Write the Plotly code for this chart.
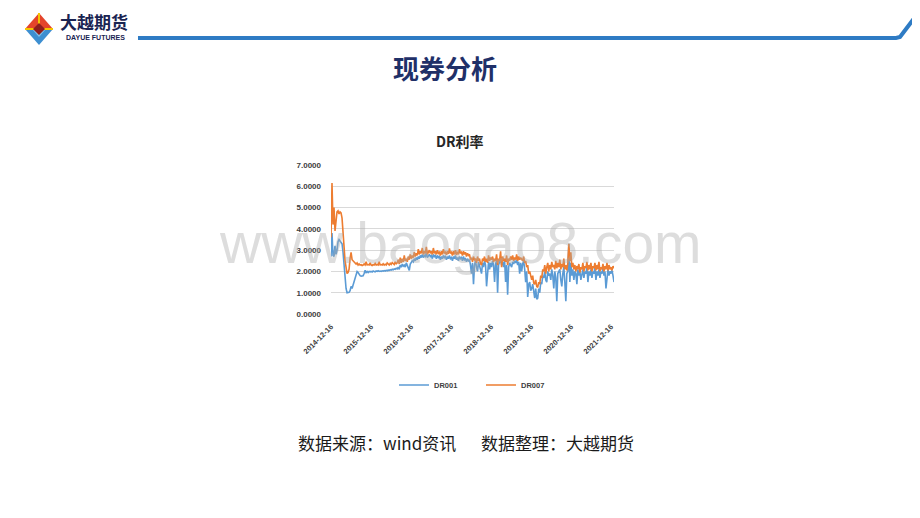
import plotly.graph_objects as go
import pandas as pd

W, H = 920, 518
OFF = 8  # page body margin

start_date = "2014-12-16"
end_date = "2022-01-12"

tick_dates = ["2014-12-16", "2015-12-16", "2016-12-16", "2017-12-16",
              "2018-12-16", "2019-12-16", "2020-12-16", "2021-12-16"]
y_ticks = [0, 1, 2, 3, 4, 5, 6, 7]

dr007 = [
    3.6, 6.15, 4.2, 5.0, 3.9, 4.3, 4.8, 4.85, 4.7, 4.8,
    4.75, 4.5, 3.8, 3.0, 2.5, 2.2, 1.9, 1.95, 2.1, 2.6,
    2.9, 2.55, 2.5, 2.45, 2.4, 2.35, 2.4, 2.3, 2.35, 2.3,
    2.32, 2.28, 2.3, 2.35, 2.3, 2.45, 2.3, 2.32, 2.3, 2.4,
    2.3, 2.28, 2.32, 2.3, 2.38, 2.3, 2.33, 2.3, 2.45, 2.3,
    2.32, 2.3, 2.36, 2.3, 2.34, 2.3, 2.4, 2.32, 2.3, 2.38,
    2.33, 2.42, 2.35, 2.32, 2.45, 2.36, 2.4, 2.55, 2.35, 2.65,
    2.4, 2.6, 2.45, 2.75, 2.5, 2.6, 2.45, 2.7, 2.55, 2.8,
    2.6, 2.75, 2.65, 2.9, 2.7, 2.85, 2.75, 3.05, 2.8, 2.95,
    2.85, 3.1, 2.8, 2.95, 2.85, 3.15, 2.8, 2.9, 3.0, 2.85,
    2.95, 2.8, 3.1, 2.85, 2.95, 2.8, 3.0, 2.85, 2.9, 2.75,
    2.95, 2.8, 3.05, 2.85, 2.9, 2.78, 2.95, 2.82, 3.08, 2.85,
    2.9, 2.75, 2.95, 2.8, 3.0, 2.78, 2.92, 2.8, 3.05, 2.85,
    2.9, 2.75, 2.95, 2.8, 2.9, 2.7, 2.85, 2.75, 2.8, 2.55,
    2.65, 2.45, 2.7, 2.55, 2.6, 2.4, 2.7, 2.5, 2.6, 2.35,
    2.3, 2.6, 2.5, 2.7, 2.45, 2.6, 2.4, 2.75, 2.5, 2.65,
    2.55, 2.7, 2.45, 2.6, 2.5, 2.8, 2.3, 2.6, 2.5, 2.95,
    2.2, 2.7, 2.5, 2.6, 2.45, 2.75, 2.3, 2.6, 2.5, 2.7,
    2.55, 2.75, 2.5, 2.65, 2.55, 2.8, 2.5, 2.7, 2.55, 2.65,
    2.6, 2.5, 2.7, 2.4, 2.5, 2.2, 2.3, 1.9, 2.0, 1.7,
    1.6, 1.8, 1.45, 1.4, 1.6, 1.3, 1.25, 1.5, 1.4, 1.8,
    1.7, 2.1, 2.0, 2.3, 1.9, 2.2, 2.4, 2.0, 2.3, 2.1,
    2.45, 2.2, 2.3, 2.1, 2.5, 2.15, 2.4, 2.2, 2.55, 2.1,
    2.35, 2.2, 2.6, 2.1, 2.3, 2.05, 2.4, 3.3, 2.5, 2.9,
    2.2, 2.4, 2.1, 2.3, 2.0, 2.25, 2.1, 2.35, 1.95, 2.2,
    2.1, 2.4, 2.0, 2.25, 2.15, 2.45, 2.05, 2.3, 2.1, 2.4,
    2.0, 2.25, 2.15, 2.4, 2.05, 2.3, 2.1, 2.45, 2.0, 2.2,
    2.1, 2.35, 2.0, 2.25, 2.1, 2.4, 2.05, 2.3, 2.1, 2.2,
    2.05, 2.25, 2.15,
]

dr001 = [
    2.7, 3.8, 2.75, 2.7, 3.2, 2.8, 3.0, 3.4, 3.5, 3.45,
    3.35, 3.3, 2.9, 2.2, 1.6, 1.2, 1.0, 1.0, 1.02, 1.1,
    1.3, 1.2, 1.35, 1.5, 1.7, 1.9, 2.0, 1.95, 1.85, 1.8,
    1.78, 1.78, 1.8, 1.9, 2.05, 1.95, 2.0, 1.95, 2.0, 1.98,
    2.0, 1.97, 2.02, 2.0, 1.98, 2.02, 2.0, 2.03, 2.0, 2.02,
    2.0, 2.03, 2.01, 2.04, 2.02, 2.05, 2.03, 2.06, 2.05, 2.08,
    2.06, 2.1, 2.08, 2.12, 2.1, 2.15, 2.12, 2.2, 2.1, 2.3,
    2.2, 2.35, 2.25, 2.3, 2.2, 2.4, 2.3, 2.15, 2.05, 2.35,
    2.4, 2.5, 2.45, 2.6, 2.5, 2.65, 2.55, 2.7, 2.6, 2.75,
    2.65, 2.8, 2.65, 2.75, 2.7, 2.85, 2.65, 2.75, 2.8, 2.7,
    2.75, 2.6, 2.8, 2.7, 2.75, 2.6, 2.75, 2.65, 2.7, 2.55,
    2.7, 2.6, 2.75, 2.65, 2.7, 2.55, 2.7, 2.6, 2.75, 2.6,
    2.65, 2.5, 2.7, 2.6, 2.75, 2.55, 2.65, 2.5, 2.7, 2.6,
    2.65, 2.5, 2.7, 2.55, 2.6, 2.45, 2.6, 2.5, 2.55, 2.3,
    1.9, 2.4, 1.4, 2.3, 2.5, 2.2, 2.0, 2.45, 2.3, 2.1,
    1.9, 2.4, 2.2, 2.5, 2.3, 1.3, 2.2, 2.45, 2.1, 2.4,
    2.2, 2.5, 2.3, 1.5, 2.35, 2.5, 1.0, 2.3, 2.45, 2.6,
    2.3, 2.45, 2.2, 2.5, 1.5, 2.3, 0.9, 2.2, 2.4, 2.3,
    2.2, 2.45, 2.35, 2.5, 2.4, 2.55, 2.3, 2.45, 1.9, 2.4,
    2.0, 2.35, 2.5, 2.1, 1.5, 2.0, 0.8, 1.4, 1.5, 1.1,
    1.2, 1.4, 1.0, 0.75, 1.2, 0.7, 0.75, 1.2, 1.0, 1.5,
    1.4, 1.8, 1.7, 2.0, 1.6, 1.5, 2.0, 1.8, 1.9, 1.6,
    2.1, 1.8, 1.2, 2.0, 1.7, 0.6, 1.9, 2.0, 2.1, 1.6,
    1.3, 1.9, 2.2, 1.5, 0.6, 1.9, 2.0, 3.3, 1.5, 2.4,
    1.8, 2.1, 1.6, 2.0, 1.9, 1.4, 2.1, 1.8, 2.0, 1.6,
    1.9, 2.1, 1.7, 2.0, 1.9, 2.2, 1.5, 2.0, 1.8, 2.1,
    1.7, 2.0, 1.9, 2.2, 1.6, 2.0, 1.8, 2.1, 1.7, 2.0,
    1.9, 2.15, 1.8, 2.0, 1.2, 1.9, 2.1, 1.8, 2.0, 1.9,
    2.05, 1.8, 1.5,
]

dates = pd.date_range(start_date, end_date, periods=len(dr007))


def px(x):
    return (x - OFF) / W


def py(y):
    return 1 - (y - OFF) / H


def path(points, close=True):
    s = "M " + " L ".join(f"{px(x):.5f},{py(y):.5f}" for x, y in points)
    return s + (" Z" if close else "")


fig = go.Figure()
fig.add_trace(go.Scatter(x=dates, y=dr001, mode="lines", name="DR001",
                         line=dict(color="#5b9bd5", width=1.6)))
fig.add_trace(go.Scatter(x=dates, y=dr007, mode="lines", name="DR007",
                         line=dict(color="#ed7d31", width=1.6)))

plot_l, plot_r, plot_t, plot_b = 331, 614, 165, 314

shapes = []
# header line
shapes.append(dict(type="path", xref="paper", yref="paper",
                   path=path([(138, 38), (896, 38), (900, 37), (903, 33), (925, 4)], close=False),
                   line=dict(color="#2e7bc4", width=4)))
# logo diamond
cx, cy = 39, 29
shapes.append(dict(type="path", xref="paper", yref="paper",
                   path=path([(cx - 14, cy), (cx, cy - 16), (cx + 14, cy)]),
                   fillcolor="#e4442b", line=dict(width=0)))
shapes.append(dict(type="path", xref="paper", yref="paper",
                   path=path([(cx - 14, cy), (cx + 14, cy), (cx, cy + 16)]),
                   fillcolor="#3d8fd1", line=dict(width=0)))
shapes.append(dict(type="path", xref="paper", yref="paper",
                   path=path([(cx - 7, cy), (cx + 7, cy), (cx, cy + 8)]),
                   fillcolor="#7fc0ea", line=dict(width=0)))
shapes.append(dict(type="path", xref="paper", yref="paper",
                   path=path([(cx - 14, cy - 1), (cx + 14, cy - 1), (cx + 14, cy + 1), (cx - 14, cy + 1)]),
                   fillcolor="#f5c400", line=dict(width=0)))
shapes.append(dict(type="path", xref="paper", yref="paper",
                   path=path([(cx - 1, cy - 16), (cx + 1, cy - 16), (cx + 1, cy), (cx - 1, cy)]),
                   fillcolor="#f5c400", line=dict(width=0)))
shapes.append(dict(type="path", xref="paper", yref="paper",
                   path=path([(cx - 6, cy), (cx, cy - 6), (cx + 6, cy), (cx, cy + 6)]),
                   fillcolor="#8e1d1d", line=dict(width=0)))

annotations = [
    dict(text="大越期货", x=px(94), y=py(22), xref="paper", yref="paper",
         showarrow=False, xanchor="center", yanchor="middle",
         font=dict(family="Noto Sans CJK SC", size=17, color="#1a2452", weight="bold")),
    dict(text="DAYUE FUTURES", x=px(95), y=py(38), xref="paper", yref="paper",
         showarrow=False, xanchor="center", yanchor="middle",
         font=dict(family="Liberation Sans", size=7, color="#1a2452", weight="bold")),
    dict(text="现券分析", x=px(445), y=py(68), xref="paper", yref="paper",
         showarrow=False, xanchor="center", yanchor="middle",
         font=dict(family="Noto Sans CJK SC", size=26, color="#1f3068", weight="bold")),
    dict(text="DR利率", x=px(460), y=py(141), xref="paper", yref="paper",
         showarrow=False, xanchor="center", yanchor="middle",
         font=dict(family="Noto Sans CJK SC", size=14, color="#262626", weight="bold")),
    dict(text="www.baogao8.com", x=px(460), y=py(243), xref="paper", yref="paper",
         showarrow=False, xanchor="center", yanchor="middle",
         font=dict(family="Liberation Sans", size=57, color="rgba(170,170,170,0.4)")),
    dict(text="数据来源：wind资讯", x=px(296), y=py(442), xref="paper", yref="paper",
         showarrow=False, xanchor="left", yanchor="middle",
         font=dict(family="Noto Sans CJK SC", size=17, color="#1a1a1a")),
    dict(text="数据整理：大越期货", x=px(636), y=py(442), xref="paper", yref="paper",
         showarrow=False, xanchor="right", yanchor="middle",
         font=dict(family="Noto Sans CJK SC", size=17, color="#1a1a1a")),
]

fig.update_layout(
    width=W, height=H, autosize=False,
    margin=dict(l=0, r=0, t=0, b=0),
    paper_bgcolor="white", plot_bgcolor="white",
    showlegend=True,
    legend=dict(orientation="h", x=px(394), xanchor="left", y=py(385), yanchor="middle",
                font=dict(family="Liberation Sans", size=7.5, color="#404040", weight="bold"),
                itemwidth=30, entrywidth=42, bgcolor="rgba(0,0,0,0)"),
    xaxis=dict(domain=[px(plot_l), px(plot_r)], type="date",
               range=[dates[0], dates[-1]],
               tickvals=tick_dates, ticktext=tick_dates, tickangle=-45,
               showgrid=False, zeroline=False, showline=False, ticks="",
               ticklabelstandoff=6, automargin=False,
               tickfont=dict(family="Liberation Sans", size=7.5, color="#404040", weight="bold")),
    yaxis=dict(domain=[py(plot_b), py(plot_t)], range=[0, 7],
               tickvals=y_ticks, ticktext=[f"{v:.4f}" for v in y_ticks],
               showgrid=True, gridcolor="#d9d9d9", gridwidth=1,
               zeroline=False, showline=False, ticks="",
               ticklabelstandoff=9, automargin=False,
               tickfont=dict(family="Liberation Sans", size=8, color="#404040", weight="bold")),
    shapes=shapes,
    annotations=annotations,
)

fig.write_html("out.html")
